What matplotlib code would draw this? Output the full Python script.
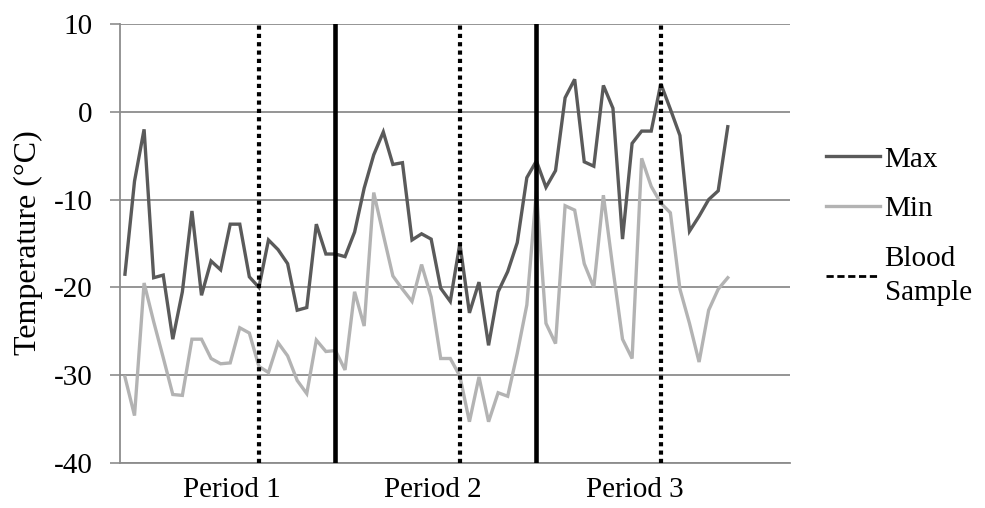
import matplotlib

matplotlib.use("Agg")
import matplotlib.pyplot as plt
from matplotlib.lines import Line2D

plt.rcParams["font.family"] = ["Liberation Serif", "DejaVu Serif"]

# daily max / min air temperature (°C), three sampling periods
max_temp = [
    -18.5, -7.9, -2.0, -18.9, -18.6, -25.9, -20.5, -11.3, -20.9, -17.0,
    -18.0, -12.8, -12.8, -18.8, -20.0, -14.6, -15.7, -17.3, -22.6, -22.3,
    -12.8, -16.2, -16.2, -16.5, -13.7, -8.7, -4.9, -2.3, -6.0, -5.8,
    -14.6, -13.9, -14.5, -20.1, -21.6, -15.0, -22.9, -19.4, -26.6, -20.5,
    -18.2, -14.9, -7.5, -5.6, -8.6, -6.7, 1.6, 3.7, -5.7, -6.2,
    3.0, 0.4, -14.5, -3.6, -2.2, -2.2, 3.2, 0.3, -2.7, -13.6,
    -11.9, -10.0, -9.0, -1.7,
]
min_temp = [
    -30.2, -34.6, -19.5, -23.9, -28.0, -32.2, -32.3, -25.9, -25.9, -28.1,
    -28.7, -28.6, -24.6, -25.2, -29.0, -29.7, -26.3, -27.8, -30.6, -32.1,
    -26.0, -27.3, -27.2, -29.4, -20.5, -24.4, -9.2, -14.0, -18.7, -20.2,
    -21.6, -17.4, -21.1, -28.1, -28.1, -30.1, -35.3, -30.2, -35.3, -32.0,
    -32.4, -27.5, -22.0, -9.0, -24.1, -26.4, -10.7, -11.2, -17.3, -20.0,
    -9.5, -17.9, -25.9, -28.1, -5.3, -8.5, -10.4, -11.5, -20.2, -24.1,
    -28.5, -22.6, -20.2, -18.9,
]
n_categories = 70
blood_days = [14, 35, 56]
period_breaks = [22, 43]
period_labels = ["Period 1", "Period 2", "Period 3"]
period_label_pos = [11.2, 32.2, 53.3]
y_ticks = [10, 0, -10, -20, -30, -40]

max_col = "#5a5a5a"
min_col = "#b3b3b3"
grid_col = "#8c8c8c"

fig = plt.figure(figsize=(9.85, 5.08), dpi=100)
ax = fig.add_axes([0.122, 0.0886, 0.680, 0.8642])

days = range(len(max_temp))
ax.plot(days, max_temp, color=max_col, lw=2.4, solid_joinstyle="miter", zorder=3)
ax.plot(days, min_temp, color=min_col, lw=2.4, solid_joinstyle="miter", zorder=3)

for d in blood_days:
    ax.axvline(d, color="black", lw=3, linestyle=(0, (1, 1)), zorder=4)
for d in period_breaks:
    ax.axvline(d, color="black", lw=3.3, zorder=4)

ax.set_xlim(-0.5, n_categories - 0.5)
ax.set_ylim(-40, 10)
ax.set_yticks(y_ticks)
ax.set_yticklabels([str(t) for t in y_ticks], fontsize=21)
ax.tick_params(axis="y", length=7, width=1.2, color=grid_col, pad=13)
ax.set_xticks(period_label_pos)
ax.set_xticklabels(period_labels, fontsize=21)
ax.tick_params(axis="x", length=0, pad=10)

ax.grid(axis="y", color=grid_col, lw=1.3)
ax.set_axisbelow(True)
for side in ["top", "right"]:
    ax.spines[side].set_visible(False)
for side in ["left", "bottom"]:
    ax.spines[side].set_color(grid_col)
    ax.spines[side].set_linewidth(1.3)

fig.text(28 / 985, 0.522, "Temperature (°C)", rotation=90, ha="center",
         va="center", fontsize=23)

handles = [
    Line2D([], [], color=max_col, lw=2.4),
    Line2D([], [], color=min_col, lw=2.4),
    Line2D([], [], color="black", lw=2, linestyle=(0, (2.6, 1.3))),
]
leg = fig.legend(handles, ["Max", "Min", "Blood\nSample"], loc="upper left",
                 bbox_to_anchor=(0.827, 0.735), frameon=False, fontsize=21,
                 handlelength=1.85, handletextpad=0.15, labelspacing=0.8,
                 borderaxespad=0)
for t in leg.get_texts():
    t.set_linespacing(1.4)

fig.savefig("out.png", dpi=100)
